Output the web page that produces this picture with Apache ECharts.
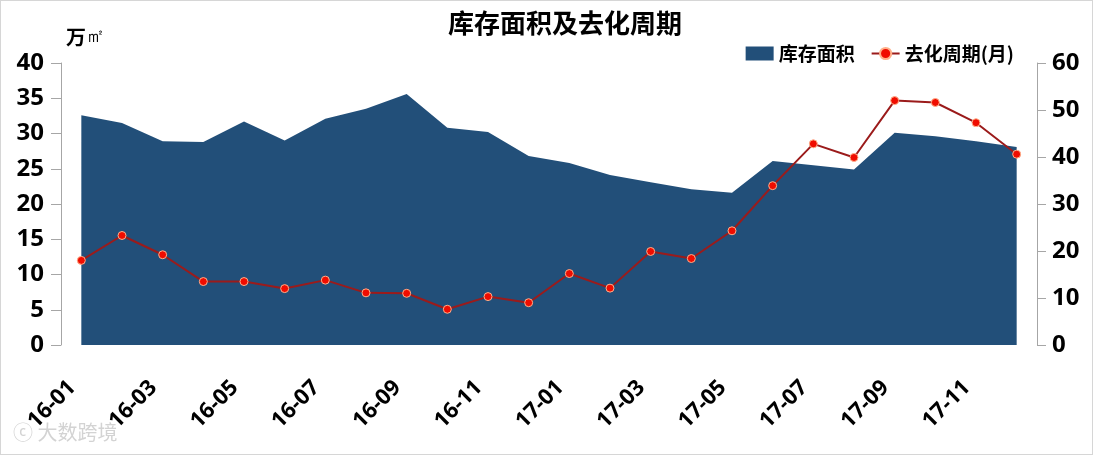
<!DOCTYPE html>
<html>
<head>
<meta charset="utf-8">
<script src="https://cdn.jsdelivr.net/npm/echarts@6/dist/echarts.min.js"></script>
<style>
  html, body { margin: 0; padding: 0; background: #fff; }
  #chart { width: 1093px; height: 455px; box-sizing: border-box; border: 1px solid #d6d6d6; }
</style>
</head>
<body>
<div id="chart"></div>
<script>
const months = ['16-01', '16-02', '16-03', '16-04', '16-05', '16-06', '16-07', '16-08', '16-09', '16-10', '16-11', '16-12',
  '17-01', '17-02', '17-03', '17-04', '17-05', '17-06', '17-07', '17-08', '17-09', '17-10', '17-11', '17-12']
// 库存面积 (万㎡)
const stockArea = [32.6, 31.5, 28.9, 28.8, 31.7, 29.0, 32.1, 33.5, 35.6, 30.8, 30.2, 26.8,
  25.8, 24.1, 23.1, 22.1, 21.6, 26.1, 25.5, 24.9, 30.1, 29.6, 28.9, 28.1]
// 去化周期 (月)
const sellCycle = [18.0, 23.3, 19.2, 13.5, 13.5, 12.0, 13.8, 11.1, 11.0, 7.6, 10.3, 9.0,
  15.2, 12.1, 19.9, 18.4, 24.3, 33.9, 42.8, 39.9, 52.0, 51.6, 47.3, 40.6]

const font = '"Open Sans", "Noto Sans CJK SC", sans-serif'
const cjk = '"Noto Sans CJK SC", sans-serif'
const myChart = echarts.init(document.getElementById('chart'))
myChart.setOption({
  animation: false,
  textStyle: { fontFamily: font },
  title: {
    text: '库存面积及去化周期',
    left: 442,
    top: 4,
    textStyle: { fontSize: 26, fontWeight: 'bold', color: '#000', fontFamily: cjk }
  },
  legend: {
    right: 73,
    top: 38,
    itemWidth: 28,
    itemHeight: 14,
    itemGap: 16,
    textStyle: { fontSize: 19, fontWeight: 'bold', color: '#000', fontFamily: cjk },
    data: [{ name: '库存面积', icon: 'rect' }, { name: '去化周期(月)' }]
  },
  graphic: [{
    type: 'text',
    left: 65,
    top: 26,
    style: {
      text: '{a|万}{b|㎡}',
      rich: {
        a: { fontSize: 20, fontWeight: 'bold', fill: '#000', fontFamily: cjk },
        b: { fontSize: 19, fill: '#000', fontFamily: 'DejaVu Serif' }
      }
    }
  }, {
    type: 'text',
    left: 12,
    top: 421,
    style: {
      text: 'ⓒ 大数跨境',
      fontSize: 20,
      fill: '#d3d3d3',
      fontFamily: cjk
    }
  }],
  grid: { left: 60, right: 55, top: 62, bottom: 109 },
  xAxis: {
    type: 'category',
    data: months,
    boundaryGap: true,
    axisLine: { show: false },
    axisTick: { show: false },
    axisLabel: {
      interval: 1,
      rotate: 45,
      margin: 30,
      padding: [0, 13, 0, 0],
      fontSize: 22,
      fontWeight: 'bold',
      color: '#000',
      fontFamily: font
    }
  },
  yAxis: [{
    type: 'value',
    min: 0,
    max: 40,
    interval: 5,
    splitLine: { show: false },
    axisLine: { show: true, lineStyle: { color: '#a6a6a6' } },
    axisTick: { show: true, length: 10, lineStyle: { color: '#a6a6a6' } },
    axisLabel: { fontSize: 24, fontWeight: 'bold', color: '#000', margin: 17, fontFamily: font }
  }, {
    type: 'value',
    min: 0,
    max: 60,
    interval: 10,
    splitLine: { show: false },
    axisLine: { show: true, lineStyle: { color: '#a6a6a6' } },
    axisTick: { show: true, length: 9, lineStyle: { color: '#a6a6a6' } },
    axisLabel: { fontSize: 24, fontWeight: 'bold', color: '#000', margin: 15, fontFamily: font }
  }],
  series: [{
    name: '库存面积',
    type: 'line',
    yAxisIndex: 0,
    data: stockArea,
    symbol: 'none',
    lineStyle: { width: 0 },
    itemStyle: { color: '#224f79' },
    areaStyle: { color: '#224f79', opacity: 1 }
  }, {
    name: '去化周期(月)',
    type: 'line',
    yAxisIndex: 1,
    data: sellCycle,
    symbol: 'circle',
    symbolSize: 8,
    lineStyle: { color: '#9b1b1b', width: 2 },
    itemStyle: { color: '#f00c00', borderColor: '#ffb08a', borderWidth: 1 }
  }]
})
</script>
</body>
</html>
